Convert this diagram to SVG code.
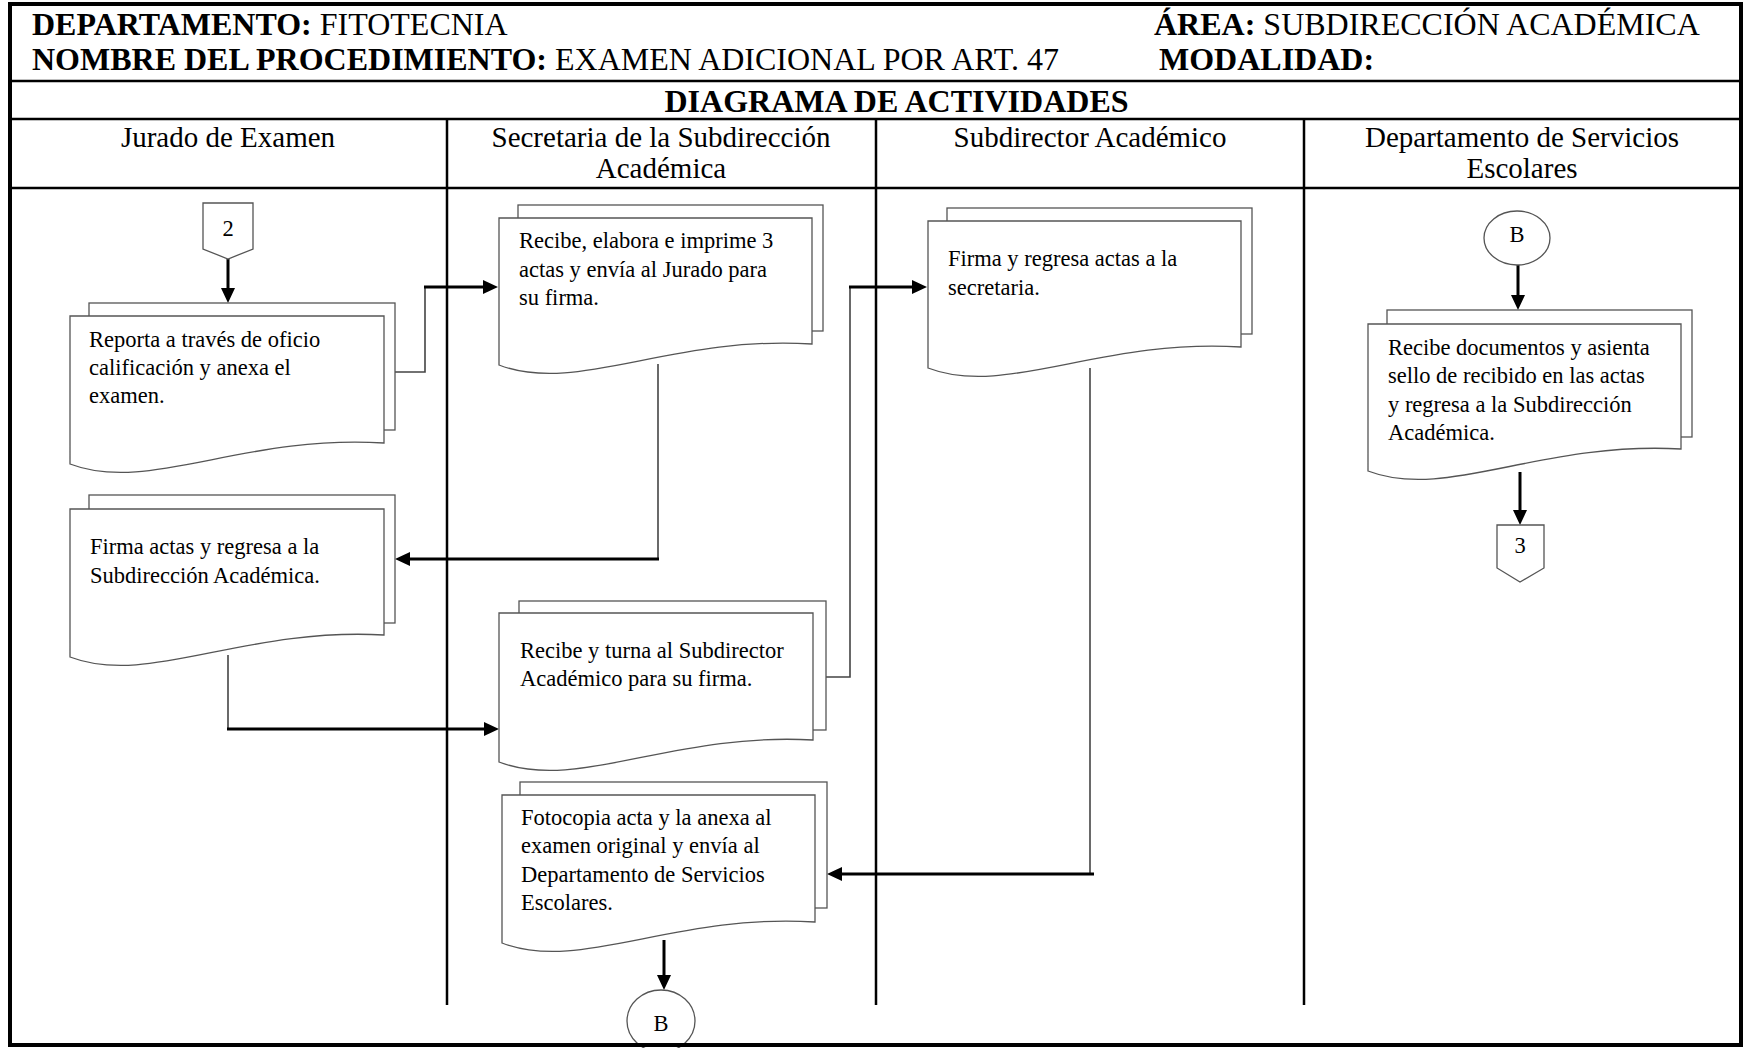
<svg xmlns="http://www.w3.org/2000/svg" width="1746" height="1048" viewBox="0 0 1746 1048">
<defs>
<style>
text{font-family:"Liberation Serif","Times New Roman",serif;fill:#000}
.h{font-size:32px}
.b{font-weight:bold}
.lane{font-size:29px;text-anchor:middle}
.t{font-size:22.5px}
.c{font-size:22.5px;text-anchor:middle}
.grid{stroke:#000;stroke-width:2.5;fill:none}
.doc{fill:#fff;stroke:#555;stroke-width:1.3}
.thin{fill:none;stroke:#444;stroke-width:1.6}
.thick{fill:none;stroke:#000;stroke-width:3}
</style>
<marker id="arr" markerUnits="userSpaceOnUse" markerWidth="16" markerHeight="15" refX="5" refY="7" orient="auto">
<path d="M0,0 L15,7 L0,14 Z" fill="#000"/>
</marker>
</defs>
<rect width="1746" height="1048" fill="#fff"/>

<g id="header">
<text class="h" x="32" y="35"><tspan class="b">DEPARTAMENTO:</tspan> FITOTECNIA</text>
<text class="h" x="1154" y="35"><tspan class="b">ÁREA:</tspan> SUBDIRECCIÓN ACADÉMICA</text>
<text class="h" x="32" y="70"><tspan class="b">NOMBRE DEL PROCEDIMIENTO:</tspan> EXAMEN ADICIONAL POR ART. 47</text>
<text class="h b" x="1159" y="70">MODALIDAD:</text>
<text class="h b" x="896.5" y="112" text-anchor="middle">DIAGRAMA DE ACTIVIDADES</text>
</g>

<g id="grid">
<line class="grid" x1="10" y1="81" x2="1741" y2="81"/>
<line class="grid" x1="10" y1="119" x2="1741" y2="119"/>
<line class="grid" x1="10" y1="188" x2="1741" y2="188"/>
<line class="grid" x1="447" y1="119" x2="447" y2="1005"/>
<line class="grid" x1="876" y1="119" x2="876" y2="1005"/>
<line class="grid" x1="1304" y1="119" x2="1304" y2="1005"/>
</g>

<g id="lanes">
<text class="lane" x="228" y="147">Jurado de Examen</text>
<text class="lane" x="661" y="147">Secretaria de la Subdirección</text>
<text class="lane" x="661" y="178">Académica</text>
<text class="lane" x="1090" y="147">Subdirector Académico</text>
<text class="lane" x="1522" y="147">Departamento de Servicios</text>
<text class="lane" x="1522" y="178">Escolares</text>
</g>

<g id="connectors">
<path class="thick" d="M228,259 V293" marker-end="url(#arr)"/>
<path class="thin" d="M395,372 H425 V287"/>
<path class="thick" d="M424,287 H488" marker-end="url(#arr)"/>
<path class="thin" d="M658,364 V559"/>
<path class="thick" d="M659,559 H405" marker-end="url(#arr)"/>
<path class="thin" d="M228,655 V729"/>
<path class="thick" d="M227,729 H489" marker-end="url(#arr)"/>
<path class="thin" d="M826,677 H850 V287"/>
<path class="thick" d="M849,287 H917" marker-end="url(#arr)"/>
<path class="thin" d="M1090,368 V874"/>
<path class="thick" d="M1094,874 H837" marker-end="url(#arr)"/>
<path class="thick" d="M664,940 V980" marker-end="url(#arr)"/>
<path class="thick" d="M1518,265 V300" marker-end="url(#arr)"/>
<path class="thick" d="M1520,472 V515" marker-end="url(#arr)"/>
</g>

<g id="node-conn2">
<path class="doc" d="M203,203 H253 V249 L228,259 L203,249 Z"/>
<text class="c" x="228" y="236">2</text>
</g>

<g id="node-reporta">
<rect class="doc" x="89" y="303" width="306" height="127"/>
<path class="doc" d="M70,316 H384 V443 C242.7,434 148.5,494 70,464 Z"/>
<text class="t" x="89" y="347">Reporta a través de oficio</text>
<text class="t" x="89" y="375">calificación y anexa el</text>
<text class="t" x="89" y="403">examen.</text>
</g>

<g id="node-recibe-elabora">
<rect class="doc" x="518" y="205" width="305" height="126"/>
<path class="doc" d="M499,218 H812 V344 C671,335 577,395 499,365 Z"/>
<text class="t" x="519" y="248">Recibe, elabora e imprime 3</text>
<text class="t" x="519" y="277">actas y envía al Jurado para</text>
<text class="t" x="519" y="305">su firma.</text>
</g>

<g id="node-firma-regresa">
<rect class="doc" x="947" y="208" width="305" height="126"/>
<path class="doc" d="M928,221 H1241 V347 C1100,338 1006,398 928,368 Z"/>
<text class="t" x="948" y="266">Firma y regresa actas a la</text>
<text class="t" x="948" y="295">secretaria.</text>
</g>

<g id="node-connB-top">
<ellipse class="doc" cx="1517" cy="238" rx="33" ry="27"/>
<text class="c" x="1517" y="242">B</text>
</g>

<g id="node-recibe-documentos">
<rect class="doc" x="1387" y="310" width="305" height="127"/>
<path class="doc" d="M1368,324 H1681 V449 C1540,441 1446,501 1368,471 Z"/>
<text class="t" x="1388" y="355">Recibe documentos y asienta</text>
<text class="t" x="1388" y="383">sello de recibido en las actas</text>
<text class="t" x="1388" y="412">y regresa a la Subdirección</text>
<text class="t" x="1388" y="440">Académica.</text>
</g>

<g id="node-conn3">
<path class="doc" d="M1497,525 H1544 V568 L1520,582 L1497,568 Z"/>
<text class="c" x="1520" y="553">3</text>
</g>

<g id="node-firma-actas">
<rect class="doc" x="89" y="495" width="306" height="128"/>
<path class="doc" d="M70,509 H384 V635 C242.7,627 148.5,687 70,657 Z"/>
<text class="t" x="90" y="554">Firma actas y regresa a la</text>
<text class="t" x="90" y="583">Subdirección Académica.</text>
</g>

<g id="node-recibe-turna">
<rect class="doc" x="519" y="601" width="307" height="129"/>
<path class="doc" d="M499,613 H813 V740 C671.7,732 577.5,792 499,762 Z"/>
<text class="t" x="520" y="658">Recibe y turna al Subdirector</text>
<text class="t" x="520" y="686">Académico para su firma.</text>
</g>

<g id="node-fotocopia">
<rect class="doc" x="520" y="782" width="307" height="126"/>
<path class="doc" d="M502,795 H815 V922 C674,913 580,973 502,943 Z"/>
<text class="t" x="521" y="825">Fotocopia acta y la anexa al</text>
<text class="t" x="521" y="853">examen original y envía al</text>
<text class="t" x="521" y="882">Departamento de Servicios</text>
<text class="t" x="521" y="910">Escolares.</text>
</g>

<g id="node-connB-bottom">
<ellipse class="doc" cx="661" cy="1021" rx="34" ry="31"/>
<text class="c" x="661" y="1031">B</text>
</g>

<rect id="frame" x="10" y="4" width="1731" height="1041" fill="none" stroke="#000" stroke-width="4"/>
</svg>
